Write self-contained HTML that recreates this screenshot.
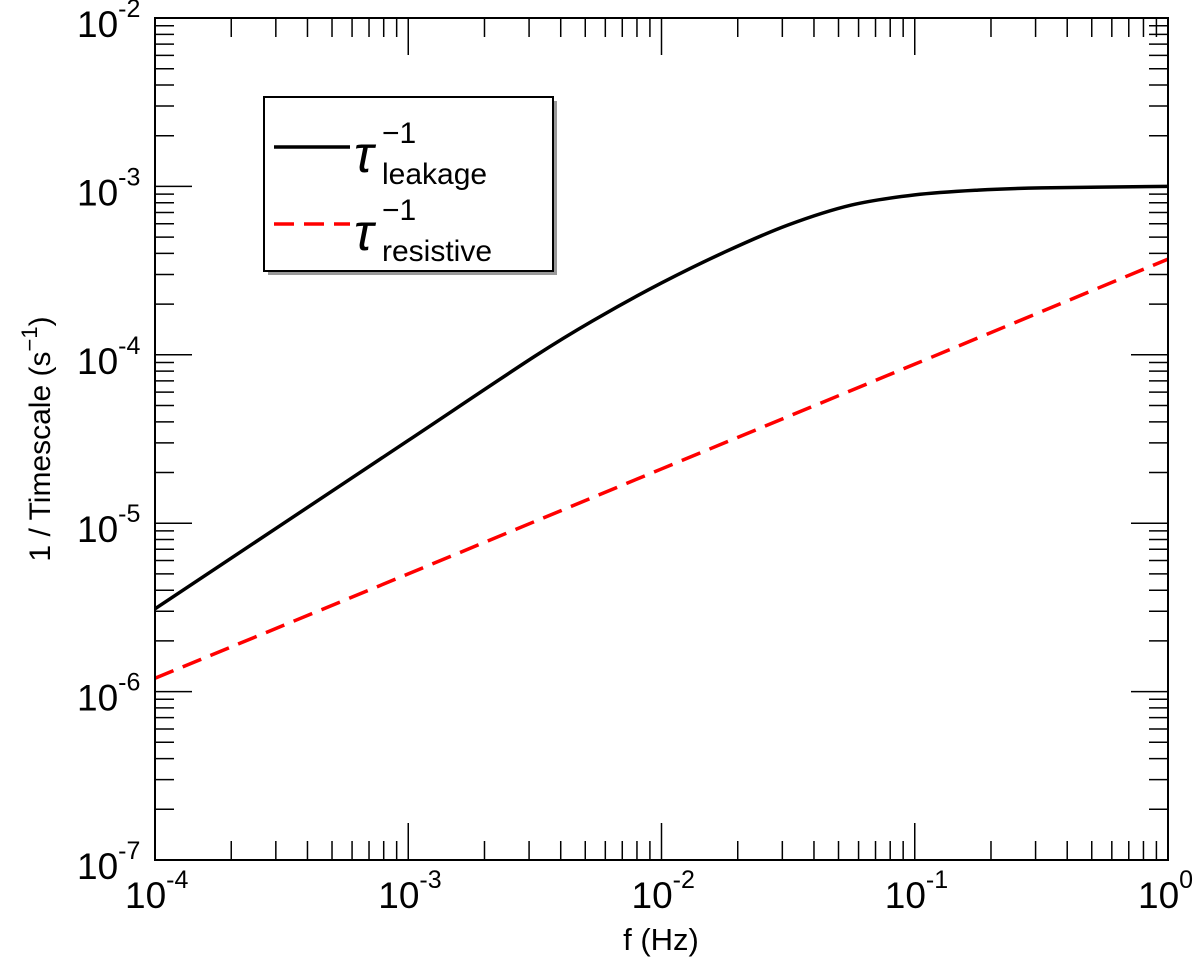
<!DOCTYPE html>
<html><head><meta charset="utf-8"><style>
body{margin:0;background:#fff}
svg text{font-family:"Liberation Sans",sans-serif}
</style></head><body>
<svg id="chart" width="1200" height="962" viewBox="0 0 1200 962" xmlns="http://www.w3.org/2000/svg">
<g id="ticks"></g>
<g id="labels"></g>
<g id="series"></g>
<rect x="155" y="18" width="1013" height="842" fill="none" stroke="#000" stroke-width="2"/>
<text x="661" y="950" font-size="31" text-anchor="middle">f (Hz)</text>
<text transform="translate(50,439) rotate(-90)" font-size="30" text-anchor="middle">1 / Timescale (s<tspan dy="-13" font-size="22">−1</tspan><tspan dy="13">)</tspan></text>
<g>
<rect x="268" y="101" width="289" height="174" fill="#999"/>
<rect x="264" y="97" width="289" height="174" fill="#fff" stroke="#000" stroke-width="2"/>
<line x1="274" y1="147" x2="350" y2="147" stroke="#000" stroke-width="3.5"/>
<text x="354" y="172" font-size="52" font-style="italic" font-family="Liberation Serif,serif">τ</text>
<text x="382" y="143" font-size="30">−1</text>
<text x="382" y="184" font-size="30">leakage</text>
<line x1="274" y1="224" x2="350" y2="224" stroke="#f00" stroke-width="3.5" stroke-dasharray="20,10"/>
<text x="354" y="250" font-size="52" font-style="italic" font-family="Liberation Serif,serif">τ</text>
<text x="382" y="220" font-size="30">−1</text>
<text x="382" y="261" font-size="30">resistive</text>
</g>
</svg>
<script>
const xTickExps=[-4,-3,-2,-1,0];
const yTickExps=[-7,-6,-5,-4,-3,-2];
const leakF=[1e-4,3.16e-4,1e-3,3.16e-3,5.62e-3,1e-2,1.78e-2,3.16e-2,5.62e-2,1e-1,1.78e-1,3.16e-1,1];
const leakV=[3.1e-6,9.8e-6,3.1e-5,9.8e-5,1.66e-4,2.67e-4,4.08e-4,5.9e-4,7.75e-4,8.9e-4,9.5e-4,9.8e-4,1e-3];
const resF=[1e-4,1e-3,1e-2,1e-1,1];
const resV=[1.2e-6,5.0e-6,2.1e-5,8.8e-5,3.7e-4];
const X0=155,X1=1168,Y0=860,Y1=18;
const xs=f=>X0+(Math.log10(f)+4)/4*(X1-X0);
const ys=v=>Y0-(Math.log10(v)+7)/5*(Y0-Y1);
const NS='http://www.w3.org/2000/svg';
function mk(t,a,p){const e=document.createElementNS(NS,t);for(const k in a)e.setAttribute(k,a[k]);p.appendChild(e);return e;}
const tg=document.getElementById('ticks'),lg=document.getElementById('labels'),sg=document.getElementById('series');
function tick(x1,y1,x2,y2){const l=mk('line',{x1,y1,x2,y2,stroke:'#000','stroke-width':1.5},tg);

}
for(let e=-4;e<=0;e++){for(let m=1;m<10;m++){if(e==0&&m>1)break;const x=xs(m*Math.pow(10,e));const L=m==1?37:19;tick(x,Y0,x,Y0-L);tick(x,Y1,x,Y1+L);}}
for(let e=-7;e<=-2;e++){for(let m=1;m<10;m++){if(e==-2&&m>1)break;const y=ys(m*Math.pow(10,e));const L=m==1?37:19;tick(X0,y,X0+L,y);tick(X1,y,X1-L,y);}}
xTickExps.forEach(e=>{const t=mk('text',{x:xs(Math.pow(10,e))-30,y:908,'font-size':37},lg);


t.innerHTML='10<tspan dy="-20" font-size="25">'+(e<0?'-'+(-e):e)+'</tspan>';});
yTickExps.forEach(e=>{const t=mk('text',{x:77,y:ys(Math.pow(10,e))+19,'font-size':37},lg);


t.innerHTML='10<tspan dy="-20" font-size="25">-'+(-e)+'</tspan>';});
function path(F,V){const P=F.map((f,i)=>[xs(f),ys(V[i])]);let d='M'+P[0][0]+','+P[0][1];
for(let i=0;i<P.length-1;i++){const p0=P[Math.max(0,i-1)],p1=P[i],p2=P[i+1],p3=P[Math.min(P.length-1,i+2)];
d+=' C'+(p1[0]+(p2[0]-p0[0])/6)+','+(p1[1]+(p2[1]-p0[1])/6)+' '+(p2[0]-(p3[0]-p1[0])/6)+','+(p2[1]-(p3[1]-p1[1])/6)+' '+p2[0]+','+p2[1];}return d;}
const l1=mk('path',{d:path(leakF,leakV),fill:'none',stroke:'#000','stroke-width':3.5},sg);


const l2=mk('path',{d:path(resF,resV),fill:'none',stroke:'#f00','stroke-width':3.5,'stroke-dasharray':'20,10'},sg);


</script>
</body></html>
